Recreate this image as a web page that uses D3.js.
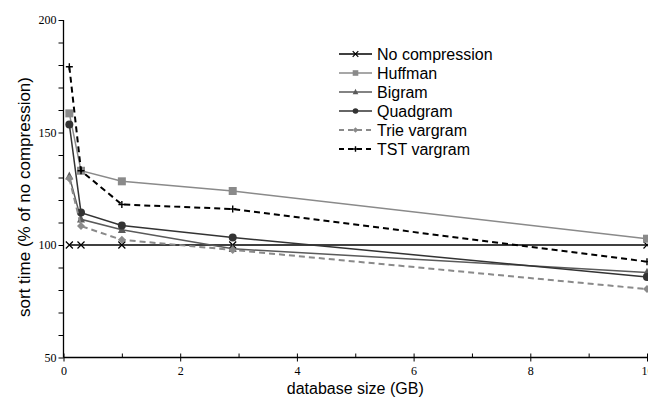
<!DOCTYPE html>
<html>
<head>
<meta charset="utf-8">
<script src="https://cdn.jsdelivr.net/npm/d3@7"></script>
<style>
body { margin: 0; background: #fff; }
svg { display: block; }
.tick text { font-family: "Liberation Serif", "Times New Roman", serif; font-size: 12px; fill: #000; }
</style>
</head>
<body>
<div id="chart"></div>
<script>
// data
var sizes = [0.1, 0.3, 1, 2.9, 10];
var seriesNames = ["No compression", "Huffman", "Bigram", "Quadgram", "Trie vargram", "TST vargram"];
var noCompression = [100, 100, 100, 100, 100];
var huffman = [158.5, 133, 128.3, 124, 102.8];
var bigram = [130.5, 111.4, 106.8, 98.3, 87.8];
var quadgram = [153.6, 114.4, 108.7, 103.3, 85.8];
var trieVargram = [129.6, 108.4, 102.3, 97.8, 80.4];
var tstVargram = [179.2, 133, 118, 116, 92.6];
var xTicks = [0, 2, 4, 6, 8, 10];
var yTicks = [50, 100, 150, 200];

var svgWidth = 648, svgHeight = 398;
var margin = { top: 20, left: 63.5, bottom: 40.5, right: 1 };
var width = svgWidth - margin.left - margin.right;
var height = svgHeight - margin.top - margin.bottom;

var svg = d3.select("#chart").append("svg").attr("width", svgWidth).attr("height", svgHeight);
var chartGroup = svg.append("g").attr("transform", `translate(${margin.left}, ${margin.top})`);

var x = d3.scaleLinear().domain([0, 10]).range([0, 583.5]);
var y = d3.scaleLinear().domain([50, 200]).range([height, 0]);

// style for each series
var styles = [
  { values: noCompression, color: "#000", width: 1.5, dash: null, marker: "x" },
  { values: huffman, color: "#8a8a8a", width: 1.5, dash: null, marker: "square" },
  { values: bigram, color: "#5a5a5a", width: 1.5, dash: null, marker: "triangle" },
  { values: quadgram, color: "#333", width: 1.5, dash: null, marker: "circle" },
  { values: trieVargram, color: "#8a8a8a", width: 2, dash: "6,4", marker: "diamond" },
  { values: tstVargram, color: "#000", width: 2, dash: "6,4", marker: "plus" }
];

// y axis, minor ticks every 10
var yAxis = chartGroup.append("g")
  .call(d3.axisLeft(y).tickValues(d3.range(50, 201, 10)).tickSize(5).tickFormat(d => yTicks.includes(d) ? d : ""));
yAxis.select(".domain").attr("stroke-width", 1.3).attr("d", `M0,${height}V0`);
yAxis.selectAll(".tick line").attr("stroke-width", 1);
yAxis.selectAll(".tick text").attr("x", -7);

// x axis
var xAxis = chartGroup.append("g")
  .attr("transform", `translate(0, ${height})`)
  .call(d3.axisBottom(x).tickValues(d3.range(0, 11, 1)).tickSize(0).tickPadding(9).tickFormat(d => xTicks.includes(d) ? d : ""));
xAxis.select(".domain").attr("stroke-width", 1.3).attr("d", "M0,0H" + (svgWidth - margin.left));
xAxis.selectAll(".tick line")
  .attr("y1", d => xTicks.includes(d) ? 4 : 0)
  .attr("y2", -4);

function drawMarker(g, type, color, s) {
  if (type === "x") {
    g.append("path").attr("d", `M${-s},${-s}L${s},${s}M${-s},${s}L${s},${-s}`)
      .attr("stroke", color).attr("stroke-width", 1.2).attr("fill", "none");
  } else if (type === "plus") {
    g.append("path").attr("d", `M${-s},0H${s}M0,${-s}V${s}`)
      .attr("stroke", color).attr("stroke-width", 1.4).attr("fill", "none");
  } else if (type === "square") {
    g.append("rect").attr("x", -s).attr("y", -s).attr("width", 2 * s).attr("height", 2 * s).attr("fill", color);
  } else if (type === "circle") {
    g.append("circle").attr("r", s).attr("fill", color);
  } else if (type === "triangle") {
    g.append("path").attr("d", `M0,${-s * 1.2}L${s},${s * 0.8}L${-s},${s * 0.8}Z`).attr("fill", color);
  } else if (type === "diamond") {
    g.append("path").attr("d", `M0,${-s}L${s},0L0,${s}L${-s},0Z`).attr("fill", color);
  }
}

var line = d3.line().x((d, i) => x(sizes[i])).y(d => y(d));

styles.forEach(function(st) {
  chartGroup.append("path")
    .datum(st.values)
    .attr("d", line)
    .attr("fill", "none")
    .attr("stroke", st.color)
    .attr("stroke-width", st.width)
    .attr("stroke-dasharray", st.dash);
  st.values.forEach(function(v, i) {
    var g = chartGroup.append("g").attr("transform", `translate(${x(sizes[i])}, ${y(v)})`);
    drawMarker(g, st.marker, st.color, st.marker === "x" || st.marker === "plus" ? 3.5 : 4);
  });
});

// legend
var legend = svg.append("g").attr("transform", "translate(339, 54)");
styles.forEach(function(st, i) {
  var row = legend.append("g").attr("transform", `translate(0, ${i * 19})`);
  row.append("line").attr("x1", 0).attr("x2", 33).attr("y1", 0).attr("y2", 0)
    .attr("stroke", st.color).attr("stroke-width", st.width)
    .attr("stroke-dasharray", st.dash ? "5,4" : null);
  var m = row.append("g").attr("transform", "translate(16.5, 0)");
  drawMarker(m, st.marker, st.color, 2.8);
  row.append("text").attr("x", 38).attr("y", 5.5)
    .style("font-family", "'Liberation Sans', Arial, sans-serif").style("font-size", "16px")
    .text(seriesNames[i]);
});

// axis titles
svg.append("text")
  .attr("x", margin.left + 583.5 / 2).attr("y", 394)
  .attr("text-anchor", "middle")
  .style("font-family", "'Liberation Sans', Arial, sans-serif").style("font-size", "16px")
  .text("database size (GB)");

svg.append("text")
  .attr("transform", "translate(30, 197) rotate(-90)")
  .attr("text-anchor", "middle")
  .style("font-family", "'Liberation Sans', Arial, sans-serif").style("font-size", "17px")
  .text("sort time (% of no compression)");
</script>
</body>
</html>
